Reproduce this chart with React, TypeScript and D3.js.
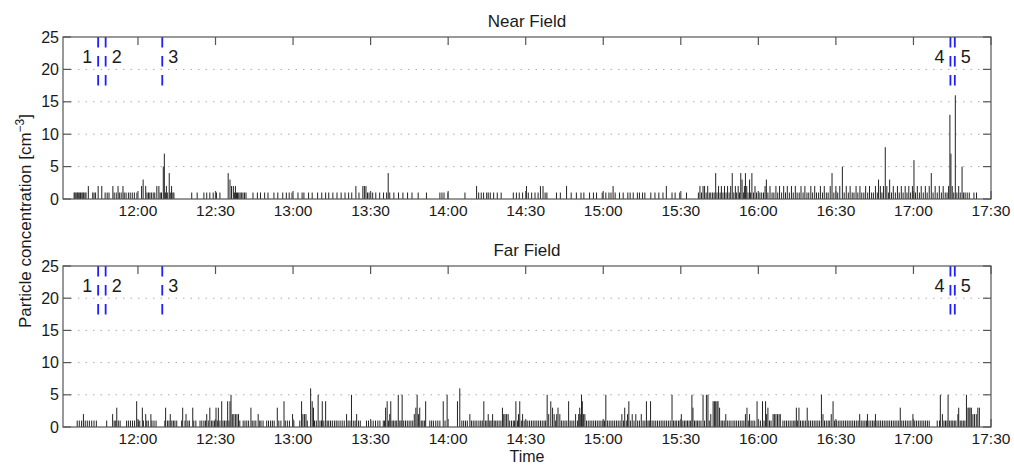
import React from 'react';
import * as d3 from 'd3';

// time axis, minutes after 11:00
const tickLabels = ['12:00', '12:30', '13:00', '13:30', '14:00', '14:30', '15:00', '15:30', '16:00', '16:30', '17:00', '17:30'];
const timeDomain = [31, 390]; // 11:31 .. 17:30
const yTicks = [0, 5, 10, 15, 20, 25];
const gridValues = [5, 10, 15, 20];

// numbered events (dashed blue markers)
const eventLabels = ['1', '2', '3', '4', '5'];
const eventMinutes = [44.6, 47.5, 69.4, 374.3, 376.0];
const eventLabelSide = [-1, 1, 1, -1, 1];

// [minutes after 11:00, particle count]
const nearField: [number, number][] = [
  [35.3, 1], [35.6, 1], [36.0, 1], [36.4, 1], [36.7, 1], [37.1, 1], [37.5, 1], [37.8, 1], [38.3, 1], [38.7, 1], [39.0, 1], [39.5, 1], [39.9, 1], [40.8, 2],
  [42.5, 1], [43.0, 1], [43.6, 1], [44.6, 2], [46.0, 2], [47.3, 1], [48.1, 1], [48.8, 1], [50.3, 2], [50.8, 1], [51.6, 1], [52.3, 2], [52.8, 1], [53.5, 1],
  [54.2, 2], [54.7, 1], [55.4, 1], [56.3, 1], [57.0, 1], [57.8, 1], [58.6, 1], [59.6, 1],
  [61.4, 2], [62.0, 3], [63.0, 2], [63.5, 1], [64.1, 1], [64.6, 1], [65.2, 1], [65.9, 1], [66.5, 1], [67.3, 2], [68.1, 2], [68.6, 1], [69.1, 1],
  [69.8, 5], [70.2, 7], [70.6, 1], [71.0, 2], [71.5, 1], [72.1, 4], [72.5, 1], [73.0, 2], [73.5, 1], [73.9, 1],
  [80.8, 1], [82.9, 1], [85.5, 1], [86.6, 1], [87.8, 1], [89.1, 1], [90.4, 1], [91.7, 1],
  [94.9, 4], [95.6, 3], [96.2, 2], [96.9, 2], [97.3, 1], [97.7, 2], [98.1, 1], [98.5, 1], [99.0, 1], [99.5, 1], [100.0, 1], [100.6, 1], [101.2, 1], [101.8, 1],
  [104.5, 1], [106.2, 1], [107.4, 1], [109.0, 1], [110.3, 1], [112.6, 1], [114.1, 1], [116.0, 1], [117.4, 1], [118.5, 1], [119.6, 1], [121.9, 1],
  [123.5, 1], [124.2, 1], [126.0, 1], [127.4, 1], [129.5, 1], [131.1, 1], [132.6, 1], [133.8, 1],
  [135.4, 1], [137.0, 1], [138.6, 1], [140.1, 1], [141.5, 1], [142.7, 1], [144.3, 2], [145.5, 1], [147.0, 2], [147.6, 2], [148.2, 2], [148.8, 1],
  [149.4, 1], [150.0, 1], [150.8, 1], [152.0, 1], [153.5, 1], [155.0, 1], [156.2, 1], [156.8, 4], [157.4, 1], [159.0, 1], [160.8, 1], [162.5, 1],
  [164.3, 1], [166.0, 1], [168.4, 1], [171.6, 1],
  [176.8, 1], [177.6, 1], [178.4, 1], [179.9, 1], [186.5, 1], [191.0, 2], [191.8, 1], [192.8, 1], [193.7, 1], [194.9, 1], [195.5, 1], [196.3, 1],
  [197.6, 1], [199.0, 1], [200.5, 1], [205.2, 1], [206.4, 1], [207.5, 1], [208.8, 1], [210.3, 2], [211.0, 1], [212.3, 1], [213.6, 1], [214.8, 1],
  [215.7, 2], [216.7, 2], [217.5, 1], [218.2, 1], [221.9, 1], [223.4, 1], [225.8, 2], [227.6, 1], [229.6, 1], [231.4, 1], [232.5, 1], [234.7, 1],
  [236.2, 1], [237.4, 1], [239.6, 1], [241.0, 1], [242.2, 1], [243.0, 1], [243.8, 2], [244.6, 1], [246.3, 1], [247.7, 1], [249.5, 1], [250.4, 1],
  [251.6, 1], [253.2, 1], [254.0, 1], [255.2, 1], [256.1, 1], [258.4, 1], [260.0, 1], [261.5, 1], [263.1, 1], [264.4, 2],
  [266.6, 1], [267.8, 1], [269.6, 1], [272.2, 1],
  [276.8, 1], [277.4, 2], [278.0, 1], [278.6, 2], [279.2, 2], [279.8, 1], [280.4, 2], [281.0, 1], [281.6, 1], [282.3, 1], [282.9, 1], [283.5, 4],
  [284.0, 1], [284.6, 2], [285.2, 1], [285.7, 2], [286.3, 1], [286.9, 2], [287.5, 1], [288.1, 2], [288.7, 1], [289.3, 2], [289.9, 4], [290.5, 1],
  [291.1, 2], [291.6, 1], [292.2, 2], [292.7, 1], [293.2, 4], [293.7, 3], [294.2, 1], [294.6, 2], [295.0, 4], [295.5, 2], [296.0, 1], [296.6, 3],
  [297.0, 1], [297.5, 4], [298.1, 1], [298.7, 2], [299.3, 1], [300.0, 1], [300.6, 1], [301.3, 1], [302.0, 1], [302.6, 2], [303.1, 3], [303.7, 1],
  [304.5, 2], [305.3, 1], [306.0, 1], [306.8, 2], [307.5, 1], [308.2, 2], [309.0, 1], [309.8, 2], [310.5, 1], [311.2, 2], [312.0, 1], [312.8, 2],
  [313.5, 1], [314.3, 2], [315.0, 1], [315.8, 1], [316.5, 2], [317.3, 1], [318.0, 2], [318.8, 1], [319.5, 1], [320.3, 2], [321.0, 1], [321.8, 2],
  [322.5, 1], [323.3, 1], [324.0, 2], [324.8, 1], [325.5, 2], [326.3, 1], [327.0, 1], [327.8, 2], [328.5, 4], [329.2, 1], [330.0, 2], [330.7, 1],
  [331.5, 2], [332.5, 5], [333.2, 1], [334.0, 2], [334.8, 1], [335.5, 2], [336.3, 1], [337.0, 1], [337.8, 2], [338.5, 1], [339.3, 2], [340.0, 1],
  [340.8, 1], [341.5, 2], [342.3, 1], [343.0, 2], [343.8, 1], [344.5, 1], [345.3, 2], [346.0, 1], [346.5, 3], [347.2, 2], [347.8, 1], [348.4, 2],
  [349.1, 8], [349.7, 2], [350.3, 1], [350.8, 3], [351.5, 1], [352.2, 2], [353.0, 1], [353.8, 2], [354.5, 1], [355.3, 2], [356.0, 1], [356.8, 2],
  [357.5, 1], [358.2, 2], [358.9, 1], [359.6, 2], [360.2, 6], [360.8, 1], [361.5, 2], [362.3, 1], [363.0, 2], [363.8, 1], [364.6, 2], [365.3, 1],
  [366.1, 2], [366.9, 4], [367.6, 1], [368.4, 2], [369.2, 1], [370.0, 2], [370.8, 1], [371.5, 2], [372.3, 1], [373.0, 1], [373.6, 2], [374.1, 13],
  [374.5, 7], [375.0, 2], [375.6, 1], [376.2, 16], [376.8, 1], [377.5, 2], [378.1, 1], [378.8, 5], [379.4, 1], [380.0, 1], [380.8, 1], [381.6, 1],
  [383.4, 1], [384.4, 1],
];

const farField: [number, number][] = [
  [36.5, 1], [37.3, 1], [38.2, 1], [38.9, 2], [39.6, 1], [40.4, 1], [41.2, 1], [42.1, 1], [43.0, 1], [43.9, 1], [47.9, 1],
  [50.2, 2], [50.8, 1], [51.4, 1], [51.8, 3], [52.4, 1], [53.1, 1],
  [55.6, 1], [56.3, 1], [57.1, 1], [57.9, 1], [58.7, 1], [59.5, 4], [60.2, 1], [60.7, 1], [61.7, 3], [62.1, 1], [63.0, 2], [63.4, 1], [64.0, 1],
  [65.0, 2], [65.4, 1], [66.2, 1], [67.0, 1],
  [70.4, 1], [70.7, 3], [71.4, 1], [72.0, 1], [72.5, 2], [73.1, 1], [73.7, 1], [74.3, 1], [75.0, 1],
  [76.9, 1], [77.3, 3], [78.2, 1], [78.6, 2], [79.3, 1], [79.9, 1], [81.2, 3], [81.6, 1], [82.4, 1],
  [84.0, 1], [84.7, 1], [85.5, 1], [86.1, 1], [86.6, 2], [87.2, 1], [87.8, 3], [88.4, 1], [89.0, 1], [89.6, 1], [90.2, 3], [90.7, 1], [91.1, 3],
  [91.7, 1], [92.4, 4], [92.9, 1], [93.5, 1], [94.1, 1], [94.7, 4], [95.2, 1], [95.6, 4], [96.0, 5], [96.5, 2], [97.1, 2], [97.7, 2], [98.3, 2],
  [98.9, 2], [99.4, 1],
  [100.7, 1], [101.4, 1], [102.1, 1], [102.8, 1], [103.7, 3], [104.2, 1], [104.9, 1], [105.6, 1], [106.5, 2], [107.1, 1], [107.6, 1], [108.4, 1],
  [109.8, 1], [110.5, 1], [111.3, 1], [112.0, 1], [112.7, 1], [113.9, 3], [114.5, 1], [115.3, 1], [116.5, 4], [117.0, 1], [117.8, 1], [118.6, 1],
  [119.8, 2], [120.3, 1],
  [122.6, 1], [123.3, 4], [123.8, 2], [124.4, 2], [125.0, 2], [125.5, 1], [126.8, 6], [127.4, 4], [127.9, 3], [128.3, 1], [129.0, 1], [129.7, 5],
  [130.4, 1], [131.0, 1], [131.3, 4], [131.9, 1], [132.6, 4], [133.2, 1], [133.8, 1], [134.5, 1], [135.2, 1], [136.0, 1], [136.7, 1],
  [137.4, 1], [138.2, 1], [139.0, 1], [139.8, 1], [140.7, 2], [141.3, 1], [142.0, 1], [142.6, 5], [143.3, 1], [144.0, 1], [144.6, 2], [145.3, 1],
  [146.0, 1], [148.4, 1], [149.2, 1], [150.1, 1], [151.0, 1], [151.9, 1], [152.8, 1], [153.6, 1],
  [154.9, 1], [155.4, 1], [155.8, 3], [156.4, 4], [156.9, 1], [157.4, 2], [157.8, 4], [158.3, 1], [158.9, 1], [159.5, 1], [160.1, 1], [160.7, 5],
  [161.3, 1], [161.8, 1], [162.2, 5], [162.8, 1], [163.5, 1], [164.2, 1], [164.9, 1], [165.6, 1], [166.3, 1], [166.9, 2], [167.5, 3], [168.0, 5],
  [168.5, 2], [169.0, 3], [169.6, 1], [170.2, 1], [170.8, 1], [171.3, 4],
  [172.9, 1], [173.6, 1], [174.3, 1], [175.2, 1], [176.0, 1], [176.8, 1], [178.1, 4], [178.8, 1], [179.6, 5], [183.6, 4], [184.5, 6],
  [185.3, 1], [186.0, 1], [186.7, 1], [187.4, 1], [188.4, 2], [189.0, 1], [189.7, 1], [190.4, 1], [191.1, 1], [191.9, 1], [192.6, 1], [193.2, 1],
  [193.8, 4], [194.4, 1], [195.0, 1], [195.5, 2], [196.1, 1], [196.6, 1], [197.2, 2], [197.8, 1], [198.4, 1], [199.0, 1], [199.7, 1], [200.4, 1],
  [201.0, 3], [201.5, 2], [202.0, 2], [202.6, 2], [203.2, 2], [203.8, 1], [204.5, 1], [205.2, 1], [205.7, 1], [206.2, 4], [206.8, 1], [207.2, 2],
  [207.7, 4], [208.3, 1], [208.8, 2], [209.4, 1], [210.1, 1], [210.8, 1], [211.5, 1], [212.2, 1], [212.9, 1], [213.6, 1], [214.3, 1], [215.0, 1],
  [215.7, 1], [216.4, 1], [217.1, 1], [217.7, 1], [218.3, 5], [218.9, 2], [219.7, 4], [220.4, 3], [221.0, 2], [221.6, 1], [222.0, 2], [222.5, 3],
  [223.2, 2], [223.8, 1], [224.5, 1], [225.2, 1], [225.9, 1], [226.6, 4], [227.2, 1], [227.9, 1], [228.6, 1], [229.3, 2], [230.0, 1], [230.5, 2],
  [230.9, 3], [231.3, 2], [231.6, 5], [231.9, 4], [232.4, 2], [232.9, 2], [233.5, 1], [234.2, 1], [234.9, 1], [235.6, 1], [236.3, 1], [237.0, 1],
  [237.7, 1], [238.4, 1], [239.1, 1], [239.8, 1], [240.5, 1], [241.0, 5], [241.6, 1], [242.3, 1], [243.0, 1], [243.7, 1], [244.4, 1], [245.1, 1],
  [245.8, 1], [246.5, 1], [247.2, 2], [247.8, 1], [248.3, 3], [248.9, 1], [249.4, 2], [249.9, 4], [250.5, 1], [251.2, 2], [251.9, 1], [252.6, 2],
  [253.3, 1], [254.0, 1], [254.7, 2], [255.4, 1], [256.1, 1], [256.7, 4], [257.3, 1], [257.8, 1], [258.3, 4], [258.9, 1], [259.6, 1], [260.3, 1],
  [261.0, 1], [261.7, 1], [262.4, 1], [263.1, 1], [263.8, 1],
  [264.5, 1], [265.2, 1], [265.9, 1], [266.6, 5], [267.2, 1], [267.8, 1], [268.4, 1], [269.1, 1], [269.7, 1], [270.2, 2], [270.8, 1], [271.4, 1],
  [272.0, 1], [272.6, 1], [273.2, 1], [273.8, 1], [274.3, 5], [274.7, 3], [275.3, 1], [275.9, 1], [276.5, 1], [277.1, 1], [277.8, 1], [278.6, 5],
  [279.2, 1], [279.9, 5], [280.5, 5], [281.0, 1], [281.6, 2], [282.5, 4], [283.0, 4], [283.5, 4], [284.0, 4], [284.4, 4], [285.0, 3], [285.6, 1],
  [286.2, 1], [286.8, 1], [287.4, 2], [288.0, 1], [288.7, 1], [289.4, 1], [290.2, 1], [290.9, 1], [291.6, 1], [292.3, 1], [293.0, 1], [293.7, 1],
  [294.4, 1], [295.0, 2], [295.6, 3], [296.1, 1], [296.6, 2], [297.2, 1], [297.9, 1], [298.6, 1], [299.5, 4], [300.1, 1], [300.8, 1], [301.6, 4],
  [302.2, 1], [302.8, 4], [303.2, 2], [303.7, 3], [304.3, 1], [304.9, 1], [305.7, 2], [306.2, 2], [306.8, 2], [307.4, 2], [308.0, 2], [308.5, 2],
  [309.5, 1], [310.2, 1], [310.9, 1], [311.6, 1], [312.3, 1], [313.0, 1], [313.7, 1], [314.2, 1], [314.7, 3], [315.2, 1], [315.7, 3], [316.3, 1],
  [317.0, 1], [317.6, 1], [318.3, 1], [318.9, 3], [319.5, 1], [320.2, 1], [320.9, 1], [321.6, 1], [322.3, 1], [323.0, 1], [323.7, 1], [324.4, 5],
  [325.0, 2], [325.6, 1], [326.3, 1], [327.0, 1], [327.6, 1], [328.2, 2], [328.9, 4], [329.5, 1], [330.2, 1], [330.9, 1], [331.6, 1], [332.3, 1],
  [333.0, 1], [333.7, 1], [334.4, 1], [335.1, 1], [335.8, 1], [336.5, 1], [337.2, 1], [337.9, 1], [338.6, 1], [339.2, 2], [339.8, 1], [340.5, 1],
  [341.2, 1], [341.8, 1], [342.2, 2], [342.8, 1], [343.5, 1], [344.2, 1], [344.8, 1], [345.3, 2], [345.9, 1], [346.6, 1], [347.3, 1], [348.0, 1],
  [348.7, 1], [349.4, 1], [350.1, 1], [350.8, 1], [351.5, 1], [352.2, 1], [352.9, 1], [353.6, 1], [354.3, 1], [354.9, 3], [355.5, 1], [356.2, 1],
  [356.9, 1], [357.6, 1], [358.3, 1], [359.0, 1], [359.8, 2], [360.5, 1], [361.2, 1], [361.9, 1], [362.6, 1], [363.3, 1], [364.0, 1], [364.7, 1],
  [365.4, 1], [366.1, 1], [369.2, 1], [370.1, 1], [370.4, 5], [371.2, 2], [371.8, 1], [372.4, 1], [373.0, 1], [373.4, 5], [374.0, 1], [374.6, 1],
  [375.2, 1], [375.8, 1], [376.4, 1], [377.2, 2], [377.5, 3], [378.1, 1], [378.7, 1], [379.3, 1], [379.9, 1], [380.5, 5], [381.1, 3], [381.5, 3],
  [381.9, 3], [382.4, 3], [383.0, 2], [383.6, 2], [384.3, 2], [384.9, 3], [385.5, 3],
];

const panels = [
  { title: 'Near Field', data: nearField, top: 37, bottom: 199 },
  { title: 'Far Field', data: farField, top: 266, bottom: 427 },
];

const W = 1014;
const H = 465;
const plotLeft = 63;
const plotRight = 991;
const font = '"Liberation Sans", Arial, Helvetica, sans-serif';
const axisColor = '#555';
const textColor = '#1a1a1a';

const toMinutes = (label: string) => {
  const [h, m] = label.split(':').map(Number);
  return (h - 11) * 60 + m;
};

const x = d3.scaleLinear().domain(timeDomain).range([plotLeft, plotRight]);

const Panel = ({ title, data, top, bottom }) => {
  const y = d3.scaleLinear().domain([0, 25]).range([bottom, top]);
  const tickLen = 8;
  return (
    <g>
      <text x={(plotLeft + plotRight) / 2} y={top - 10.5} textAnchor="middle" fontSize={17} fill={textColor}>
        {title}
      </text>

      {/* dotted grid */}
      {gridValues.map(v => (
        <line key={'g' + v} x1={plotLeft} x2={plotRight} y1={y(v)} y2={y(v)}
          stroke="#aaa" strokeWidth={1} strokeDasharray="1.5 6" />
      ))}

      {/* concentration stems */}
      {data.map(([t, v], i) => (
        <line key={i} x1={x(t)} x2={x(t)} y1={y(0)} y2={y(v)} stroke="#222" strokeWidth={1} />
      ))}

      {/* event markers */}
      {eventMinutes.map((t, i) => (
        <g key={'e' + i}>
          <line x1={x(t)} x2={x(t)} y1={y(25)} y2={y(17.2)} stroke="#1f1fff" strokeWidth={1.8} strokeDasharray="10.5 8.5" />
          <text x={x(t) + eventLabelSide[i] * 11} y={y(21.9)} textAnchor="middle" dominantBaseline="central"
            fontSize={18} fill={textColor}>
            {eventLabels[i]}
          </text>
        </g>
      ))}

      {/* axes box + ticks */}
      <rect x={plotLeft} y={top} width={plotRight - plotLeft} height={bottom - top} fill="none" stroke={axisColor} strokeWidth={1.2} />
      {tickLabels.map(lbl => {
        const px = x(toMinutes(lbl));
        return (
          <g key={lbl}>
            <line x1={px} x2={px} y1={bottom} y2={bottom - tickLen} stroke={axisColor} strokeWidth={1.2} />
            <line x1={px} x2={px} y1={top} y2={top + tickLen} stroke={axisColor} strokeWidth={1.2} />
            <text x={px} y={bottom + 16.5} textAnchor="middle" fontSize={15.5} fill={textColor}>{lbl}</text>
          </g>
        );
      })}
      {yTicks.map(v => (
        <g key={'y' + v}>
          <line x1={plotLeft} x2={plotLeft + tickLen} y1={y(v)} y2={y(v)} stroke={axisColor} strokeWidth={1.2} />
          <line x1={plotRight} x2={plotRight - tickLen} y1={y(v)} y2={y(v)} stroke={axisColor} strokeWidth={1.2} />
          <text x={plotLeft - 4} y={y(v)} textAnchor="end" dominantBaseline="central" fontSize={16} fill={textColor}>{v}</text>
        </g>
      ))}
    </g>
  );
};

export default function App() {
  return (
    <div>
      <style>{'body{margin:0;background:#fff}'}</style>
      <svg width={W} height={H} style={{ display: 'block', fontFamily: font }}>
        <rect width={W} height={H} fill="#fff" />
        {panels.map(p => <Panel key={p.title} {...p} />)}
        <text transform="translate(31,221) rotate(-90)" textAnchor="middle" fontSize={17} fill={textColor}>
          Particle concentration [cm<tspan dy={-7} fontSize={12}>−3</tspan><tspan dy={7}>]</tspan>
        </text>
        <text x={(plotLeft + plotRight) / 2} y={461.5} textAnchor="middle" fontSize={16} fill={textColor}>Time</text>
      </svg>
    </div>
  );
}
